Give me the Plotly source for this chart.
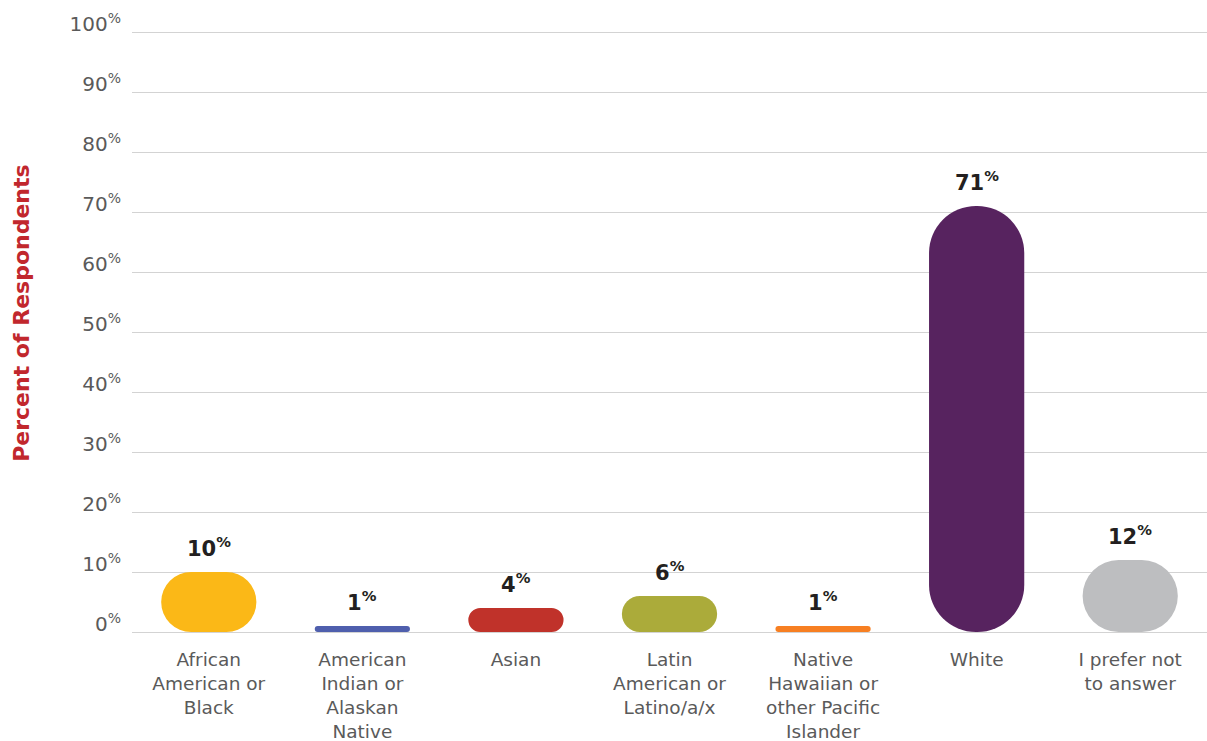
import plotly.graph_objects as go

# Survey data: share of respondents by race/ethnicity
categories = [
    "African American or Black",
    "American Indian or Alaskan Native",
    "Asian",
    "Latin American or Latino/a/x",
    "Native Hawaiian or other Pacific Islander",
    "White",
    "I prefer not to answer",
]
tick_labels = [
    "African<br>American or<br>Black",
    "American<br>Indian or<br>Alaskan<br>Native",
    "Asian",
    "Latin<br>American or<br>Latino/a/x",
    "Native<br>Hawaiian or<br>other Pacific<br>Islander",
    "White",
    "I prefer not<br>to answer",
]
values = [10, 1, 4, 6, 1, 71, 12]
colors = ["#FBB817", "#4F5FAD", "#C0322A", "#ABAB3A", "#F77F22", "#57235F", "#BDBEC0"]
y_ticks = [0, 10, 20, 30, 40, 50, 60, 70, 80, 90, 100]

FONT = "DejaVu Sans"
W, H = 1207, 741
M_L, M_R, M_T, M_B = 132, 0, 29, 106
Y_RANGE = [-0.5, 100.5]
BAR_W = 0.62  # bar width in category units

plot_w = W - M_L - M_R
plot_h = H - M_T - M_B
px_per_unit = plot_h / (Y_RANGE[1] - Y_RANGE[0])
bar_px = BAR_W * plot_w / len(categories)

fig = go.Figure()

# Pill-shaped bars: with an explicit base, plotly rounds both ends of the bar,
# so the radius is limited by half the bar's width or half its height.
for cat, v, c in zip(categories, values, colors):
    r = min(bar_px / 2.0, v * px_per_unit / 2.0)
    fig.add_trace(go.Bar(
        x=[cat], y=[v], base=[0], width=BAR_W,
        marker=dict(color=c, line=dict(width=0), cornerradius=r),
        hoverinfo="skip", showlegend=False,
    ))
    fig.add_annotation(
        x=cat, y=v, xref="x", yref="y",
        text=f"<b>{v}<sup>%</sup></b>",
        showarrow=False, yanchor="bottom", yshift=9,
        font=dict(family=FONT, size=21, color="#231F20"),
    )

# Vertical axis title
fig.add_annotation(
    x=-(M_L - 22) / plot_w, y=0.53, xref="paper", yref="paper",
    text="<b>Percent of Respondents</b>", textangle=-90,
    showarrow=False, xanchor="center", yanchor="middle",
    font=dict(family=FONT, size=22, color="#C1272D"),
)

fig.update_layout(
    template="none",
    width=W, height=H,
    margin=dict(l=M_L, r=M_R, t=M_T, b=M_B, pad=0),
    barmode="overlay",
    paper_bgcolor="white", plot_bgcolor="white",
    font=dict(family=FONT, color="#5A5A5A"),
    xaxis=dict(
        categoryorder="array", categoryarray=categories,
        tickmode="array", tickvals=categories, ticktext=tick_labels,
        showgrid=False, showline=False, zeroline=False, ticks="",
        ticklabelstandoff=11,
        tickfont=dict(family=FONT, size=18.5, color="#5A5A5A"),
        range=[-0.5, len(categories) - 0.5],
    ),
    yaxis=dict(
        range=Y_RANGE,
        tickmode="array", tickvals=y_ticks,
        ticktext=[f"{t}<sup>%</sup>" for t in y_ticks],
        showgrid=True, gridcolor="#D3D3D3", gridwidth=1,
        showline=False, zeroline=False, ticks="",
        ticklabelstandoff=10, ticklabelshift=-8,
        tickfont=dict(family=FONT, size=20, color="#5A5A5A"),
    ),
)

fig.write_html("out.html")
